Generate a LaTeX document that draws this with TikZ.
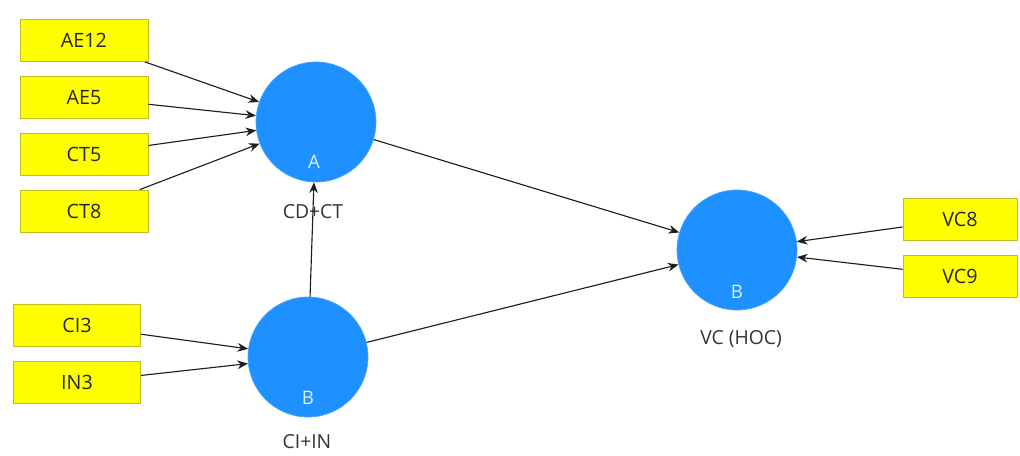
\documentclass[tikz,border=0pt]{standalone}
\usepackage{fontspec}
\setmainfont{Open Sans}
\usetikzlibrary{arrows.meta}
\definecolor{latent}{RGB}{30,144,255}
\definecolor{indic}{RGB}{255,255,0}
\definecolor{indicedge}{RGB}{190,190,40}
\definecolor{innertext}{RGB}{225,240,255}
\definecolor{linkcol}{RGB}{30,30,30}
\tikzset{
  indicator/.style={rectangle, fill=indic, draw=indicedge, line width=0.6pt,
    minimum width=96pt, minimum height=31.5pt, inner sep=0pt,
    font=\fontsize{14.8}{17}\selectfont, text=black!85},
  construct/.style={circle, fill=latent, draw=latent!80!white, line width=0.5pt,
    minimum size=90pt, inner sep=0pt},
  inlabel/.style={font=\fontsize{14}{16}\selectfont, text=innertext},
  outlabel/.style={font=\fontsize{14.5}{17}\selectfont, text=black!80},
  link/.style={draw=linkcol, line width=0.85pt, -{Stealth[length=8pt,width=6.5pt]}},
}
\begin{document}
\begin{tikzpicture}[x=0.75pt,y=-0.75pt]
\useasboundingbox (0,0) rectangle (1020,456);

% constructs
\node[construct] (A) at (316,122) {};
\node[construct] (B) at (308,357) {};
\node[construct] (VC) at (737,250) {};
\node[inlabel] (Alab) at (314,162) {A};
\node[inlabel] (Blab) at (308,398) {B};
\node[inlabel] (VClab) at (737,292) {B};
\node[outlabel] (Aname) at (313,212) {CD+CT};
\node[outlabel] (Bname) at (307,442) {CI+IN};
\node[outlabel] (VCname) at (741,339) {VC (HOC)};

% indicators
\node[indicator] (AE12) at (84,40.5) {AE12};
\node[indicator] (AE5) at (84,97.5) {AE5};
\node[indicator] (CT5) at (84,154.5) {CT5};
\node[indicator] (CT8) at (84,211) {CT8};
\node[indicator, minimum width=95.25pt] (CI3) at (77,325.5) {CI3};
\node[indicator, minimum width=95.25pt] (IN3) at (77,382.5) {IN3};
\node[indicator, minimum width=85.5pt] (VC8) at (960,219) {VC8};
\node[indicator, minimum width=85.5pt] (VC9) at (960,276) {VC9};

% measurement links
\foreach \i in {AE12,AE5,CT5,CT8} \draw[link] (\i) -- (A);
\foreach \i in {CI3,IN3} \draw[link] (\i) -- (B);
\foreach \i in {VC8,VC9} \draw[link] (\i) -- (VC);

% structural paths
\draw[link] (B) -- (A);
\draw[link] (A) -- (VC);
\draw[link] (B) -- (VC);
\end{tikzpicture}
\end{document}
